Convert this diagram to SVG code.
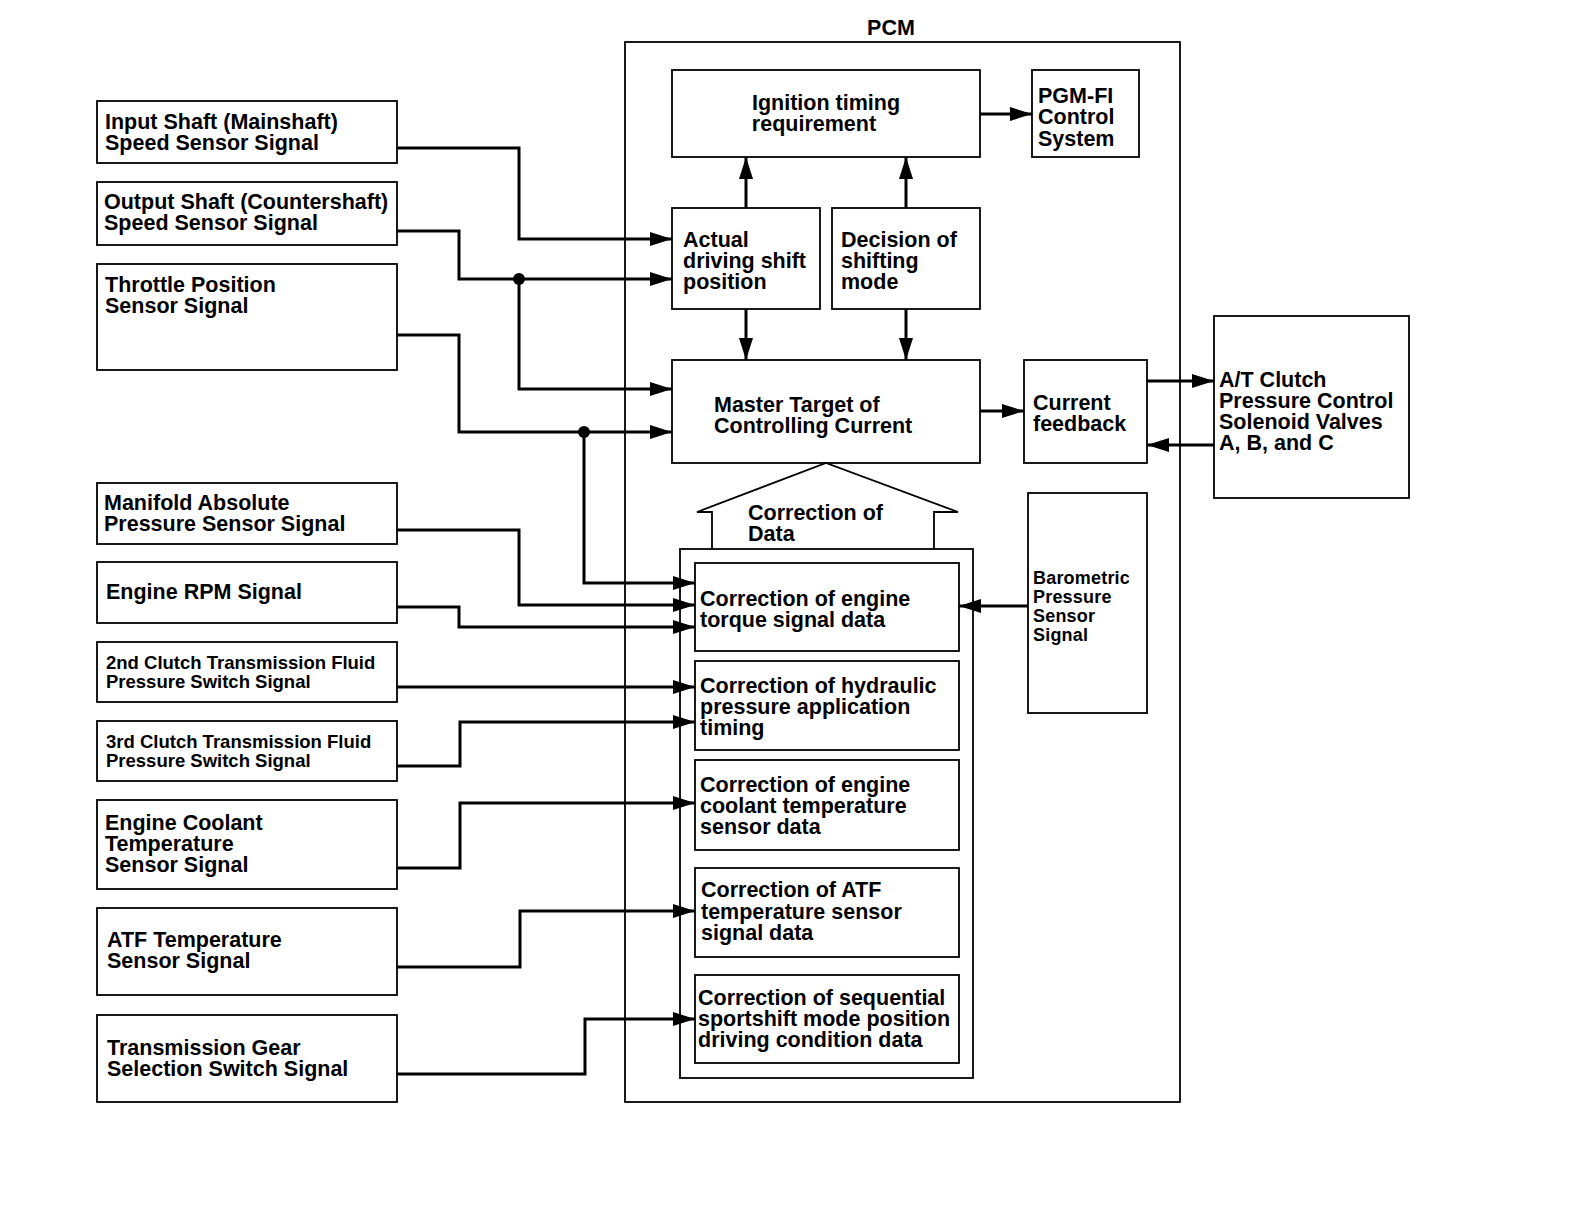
<svg xmlns="http://www.w3.org/2000/svg" width="1584" height="1226" viewBox="0 0 1584 1226">
<style>
.box{fill:#fff;stroke:#000;stroke-width:1.8}
.t{font-family:"Liberation Sans",Arial,sans-serif;font-weight:bold;font-size:21.5px;fill:#000}
.s{font-size:18.5px}
.b{font-size:18px;letter-spacing:0.2px}
.w{fill:none;stroke:#000;stroke-width:3}
</style>
<defs>
<marker id="ah" markerUnits="userSpaceOnUse" markerWidth="22" markerHeight="14" refX="22" refY="7" orient="auto">
<path d="M0,0 L22,7 L0,14 z" fill="#000"/>
</marker>
</defs>
<rect width="1584" height="1226" fill="#fff"/>

<g id="pcm">
<rect class="box" x="625" y="42" width="555" height="1060"/>
<text class="t" x="891" y="35" text-anchor="middle">PCM</text>
</g>

<g id="in1"><rect class="box" x="97" y="101" width="300" height="62"/>
<text class="t" x="105" y="129">Input Shaft (Mainshaft)</text><text class="t" x="105" y="150">Speed Sensor Signal</text></g>
<g id="in2"><rect class="box" x="97" y="182" width="300" height="63"/>
<text class="t" x="104" y="209">Output Shaft (Countershaft)</text><text class="t" x="104" y="230">Speed Sensor Signal</text></g>
<g id="in3"><rect class="box" x="97" y="264" width="300" height="106"/>
<text class="t" x="105" y="292">Throttle Position</text><text class="t" x="105" y="313">Sensor Signal</text></g>
<g id="in4"><rect class="box" x="97" y="483" width="300" height="61"/>
<text class="t" x="104" y="510">Manifold Absolute</text><text class="t" x="104" y="531">Pressure Sensor Signal</text></g>
<g id="in5"><rect class="box" x="97" y="562" width="300" height="61"/>
<text class="t" x="106" y="599">Engine RPM Signal</text></g>
<g id="in6"><rect class="box" x="97" y="642" width="300" height="60"/>
<text class="t s" x="106" y="669">2nd Clutch Transmission Fluid</text><text class="t s" x="106" y="688">Pressure Switch Signal</text></g>
<g id="in7"><rect class="box" x="97" y="721" width="300" height="60"/>
<text class="t s" x="106" y="748">3rd Clutch Transmission Fluid</text><text class="t s" x="106" y="767">Pressure Switch Signal</text></g>
<g id="in8"><rect class="box" x="97" y="800" width="300" height="89"/>
<text class="t" x="105" y="830">Engine Coolant</text><text class="t" x="105" y="851">Temperature</text><text class="t" x="105" y="872">Sensor Signal</text></g>
<g id="in9"><rect class="box" x="97" y="908" width="300" height="87"/>
<text class="t" x="107" y="947">ATF Temperature</text><text class="t" x="107" y="968">Sensor Signal</text></g>
<g id="in10"><rect class="box" x="97" y="1015" width="300" height="87"/>
<text class="t" x="107" y="1055">Transmission Gear</text><text class="t" x="107" y="1076">Selection Switch Signal</text></g>

<g id="ign"><rect class="box" x="672" y="70" width="308" height="87"/>
<text class="t" x="826" y="110" text-anchor="middle">Ignition timing</text><text class="t" x="814" y="131" text-anchor="middle">requirement</text></g>
<g id="pgm"><rect class="box" x="1032" y="70" width="107" height="87"/>
<text class="t" x="1038" y="103">PGM-FI</text><text class="t" x="1038" y="124">Control</text><text class="t" x="1038" y="146">System</text></g>
<g id="actual"><rect class="box" x="672" y="208" width="148" height="101"/>
<text class="t" x="683" y="247">Actual</text><text class="t" x="683" y="268">driving shift</text><text class="t" x="683" y="289">position</text></g>
<g id="decision"><rect class="box" x="832" y="208" width="148" height="101"/>
<text class="t" x="841" y="247">Decision of</text><text class="t" x="841" y="268">shifting</text><text class="t" x="841" y="289">mode</text></g>
<g id="master"><rect class="box" x="672" y="360" width="308" height="103"/>
<text class="t" x="714" y="412">Master Target of</text><text class="t" x="714" y="433">Controlling Current</text></g>
<g id="feedback"><rect class="box" x="1024" y="360" width="123" height="103"/>
<text class="t" x="1033" y="410">Current</text><text class="t" x="1033" y="431">feedback</text></g>
<g id="solenoid"><rect class="box" x="1214" y="316" width="195" height="182"/>
<text class="t" x="1219" y="387">A/T Clutch</text><text class="t" x="1219" y="408">Pressure Control</text><text class="t" x="1219" y="429">Solenoid Valves</text><text class="t" x="1219" y="450">A, B, and C</text></g>
<g id="baro"><rect class="box" x="1028" y="493" width="119" height="220"/>
<text class="t b" x="1033" y="584">Barometric</text><text class="t b" x="1033" y="603">Pressure</text><text class="t b" x="1033" y="622">Sensor</text><text class="t b" x="1033" y="641">Signal</text></g>

<g id="correction-arrow">
<polyline points="712,549 712,512 697,512 826,463 958,512 934,512 934,549" fill="#fff" stroke="#000" stroke-width="1.8"/>
<text class="t" x="748" y="520">Correction of</text><text class="t" x="748" y="541">Data</text>
</g>
<g id="correction">
<rect class="box" x="680" y="549" width="293" height="529"/>
<g id="c1"><rect class="box" x="695" y="563" width="264" height="88"/>
<text class="t" x="700" y="606">Correction of engine</text><text class="t" x="700" y="627">torque signal data</text></g>
<g id="c2"><rect class="box" x="695" y="661" width="264" height="89"/>
<text class="t" x="700" y="693">Correction of hydraulic</text><text class="t" x="700" y="714">pressure application</text><text class="t" x="700" y="735">timing</text></g>
<g id="c3"><rect class="box" x="695" y="760" width="264" height="90"/>
<text class="t" x="700" y="792">Correction of engine</text><text class="t" x="700" y="813">coolant temperature</text><text class="t" x="700" y="834">sensor data</text></g>
<g id="c4"><rect class="box" x="695" y="868" width="264" height="89"/>
<text class="t" x="701" y="897">Correction of ATF</text><text class="t" x="701" y="919">temperature sensor</text><text class="t" x="701" y="940">signal data</text></g>
<g id="c5"><rect class="box" x="695" y="975" width="264" height="88"/>
<text class="t" x="698" y="1005">Correction of sequential</text><text class="t" x="698" y="1026">sportshift mode position</text><text class="t" x="698" y="1047">driving condition data</text></g>
</g>

<g id="connectors">
<path class="w" d="M397,148 H519 V239 H672" marker-end="url(#ah)"/>
<path class="w" d="M397,231 H459 V279 H672" marker-end="url(#ah)"/>
<path class="w" d="M519,279 V389 H672" marker-end="url(#ah)"/>
<path class="w" d="M397,335 H459 V432 H672" marker-end="url(#ah)"/>
<path class="w" d="M584,432 V583 H695" marker-end="url(#ah)"/>
<path class="w" d="M397,530 H519 V605 H695" marker-end="url(#ah)"/>
<path class="w" d="M397,607 H459 V627 H695" marker-end="url(#ah)"/>
<path class="w" d="M397,687 H695" marker-end="url(#ah)"/>
<path class="w" d="M397,766 H460 V722 H695" marker-end="url(#ah)"/>
<path class="w" d="M397,868 H460 V803 H695" marker-end="url(#ah)"/>
<path class="w" d="M397,967 H520 V911 H695" marker-end="url(#ah)"/>
<path class="w" d="M397,1074 H585 V1019 H695" marker-end="url(#ah)"/>
<circle cx="519" cy="279" r="6"/>
<circle cx="584" cy="432" r="6"/>
<path class="w" d="M980,114 H1032" marker-end="url(#ah)"/>
<path class="w" d="M746,208 V157" marker-end="url(#ah)"/>
<path class="w" d="M906,208 V157" marker-end="url(#ah)"/>
<path class="w" d="M746,309 V360" marker-end="url(#ah)"/>
<path class="w" d="M906,309 V360" marker-end="url(#ah)"/>
<path class="w" d="M980,411 H1024" marker-end="url(#ah)"/>
<path class="w" d="M1147,381 H1214" marker-end="url(#ah)"/>
<path class="w" d="M1214,445 H1147" marker-end="url(#ah)"/>
<path class="w" d="M1028,606 H959" marker-end="url(#ah)"/>
</g>
</svg>
